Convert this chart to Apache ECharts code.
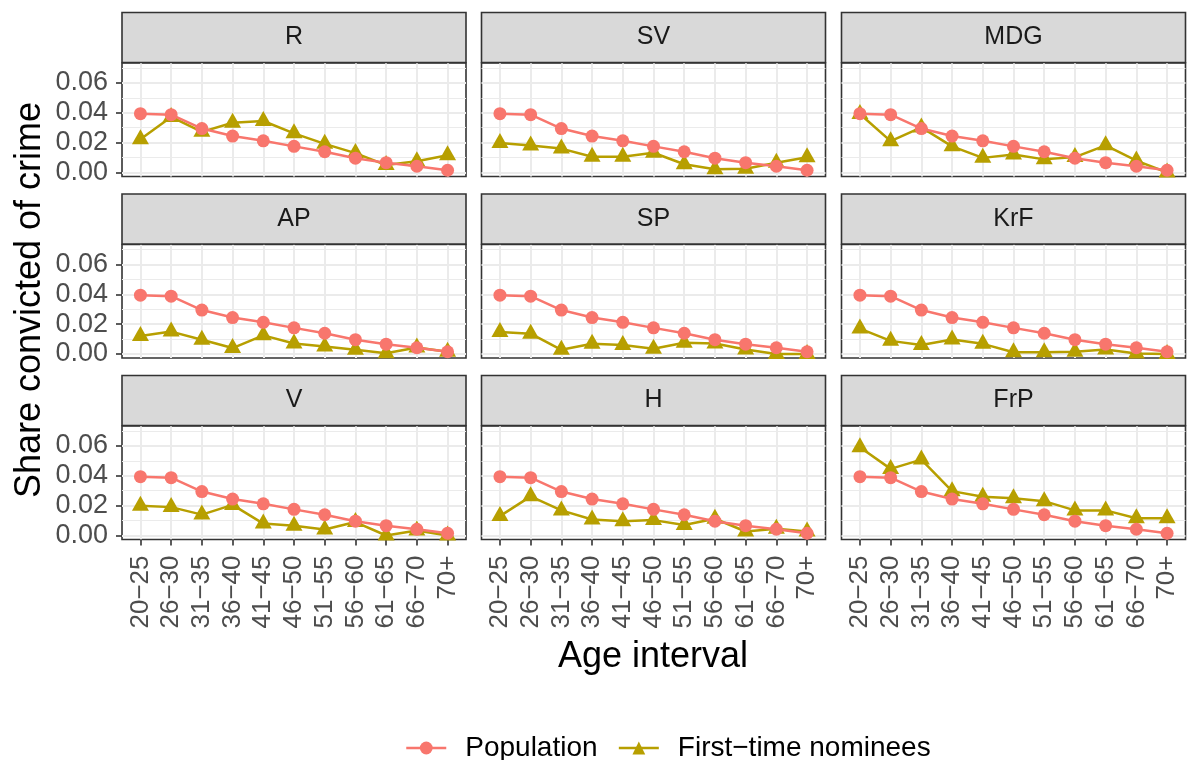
<!DOCTYPE html>
<html>
<head>
<meta charset="utf-8">
<script src="https://cdn.jsdelivr.net/npm/echarts@6/dist/echarts.min.js"></script>
<style>
  html, body { margin: 0; padding: 0; background: #ffffff; }
  #chart { width: 1187px; height: 760px; }
</style>
</head>
<body>
<div id="chart"></div>
<script>
// Age bands shown on the x axis
const ageIntervals = ['20−25', '26−30', '31−35', '36−40', '41−45', '46−50',
                      '51−55', '56−60', '61−65', '66−70', '70+'];

// Party facets, in reading order
const parties = ['R', 'SV', 'MDG', 'AP', 'SP', 'KrF', 'V', 'H', 'FrP'];

// Share of the general population convicted of a crime, by age band
const population = [0.0394, 0.0387, 0.0294, 0.0244, 0.0212, 0.0175, 0.0139, 0.0096, 0.0066, 0.0042, 0.0015];

// Share of first-time nominees convicted of a crime, by party and age band
const nomineesR   = [0.0222, 0.0372, 0.0272, 0.0333, 0.0345, 0.0262, 0.0192, 0.0130, 0.0050, 0.0075, 0.0115];
const nomineesSV  = [0.0198, 0.0180, 0.0160, 0.0105, 0.0105, 0.0132, 0.0055, 0.0022, 0.0025, 0.0065, 0.0102];
const nomineesMDG = [0.0392, 0.0210, 0.0302, 0.0175, 0.0098, 0.0120, 0.0088, 0.0103, 0.0182, 0.0080, 0.0000];
const nomineesAP  = [0.0120, 0.0150, 0.0095, 0.0040, 0.0125, 0.0070, 0.0050, 0.0028, 0.0005, 0.0043, 0.0015];
const nomineesSP  = [0.0148, 0.0136, 0.0028, 0.0068, 0.0060, 0.0035, 0.0075, 0.0070, 0.0030, 0.0000, 0.0000];
const nomineesKrF = [0.0170, 0.0088, 0.0060, 0.0097, 0.0068, 0.0012, 0.0012, 0.0015, 0.0030, 0.0003, 0.0000];
const nomineesV   = [0.0200, 0.0190, 0.0140, 0.0205, 0.0080, 0.0065, 0.0040, 0.0090, 0.0000, 0.0033, 0.0000];
const nomineesH   = [0.0130, 0.0262, 0.0168, 0.0107, 0.0096, 0.0103, 0.0070, 0.0112, 0.0027, 0.0045, 0.0027];
const nomineesFrP = [0.0591, 0.0446, 0.0508, 0.0297, 0.0260, 0.0250, 0.0230, 0.0168, 0.0168, 0.0116, 0.0116];

const nomineesByParty = [nomineesR, nomineesSV, nomineesMDG, nomineesAP, nomineesSP,
                         nomineesKrF, nomineesV, nomineesH, nomineesFrP];

// y axis ticks (major labelled, minor grid only)
const yTicks = [0, 0.02, 0.04, 0.06];
const yMinorTicks = [0.01, 0.03, 0.05, 0.07];

const seriesNames = ['Population', 'First−time nominees'];

// ---- layout ----
const COL_LEFT = [122, 481.5, 841.5];
const ROW_TOP = [63, 244.5, 426];
const PANEL_W = 344;
const PANEL_H = 113.5;
const STRIP_H = 50;
const Y_MIN = -0.00267, Y_MAX = 0.0733;
const X_MIN = -0.6, X_MAX = 10.6;

const POP_COLOR = '#F8766D';
const NOM_COLOR = '#B79F00';
const GRID_COLOR = '#EBEBEB';
const FRAME_COLOR = '#333333';
const TICK_TEXT = '#4D4D4D';
const FONT = 'Liberation Sans, Arial, sans-serif';

const xIdx = ageIntervals.map((_, k) => k);

const grids = [], xAxes = [], yAxes = [], series = [], graphics = [];

parties.forEach((party, i) => {
  const col = i % 3, row = Math.floor(i / 3);
  const left = COL_LEFT[col], top = ROW_TOP[row];
  const bottomRow = row === 2, leftCol = col === 0;

  grids.push({
    left: left, top: top, width: PANEL_W, height: PANEL_H,
    show: true, backgroundColor: '#ffffff',
    borderColor: FRAME_COLOR, borderWidth: 1.6,
    containLabel: false, outerBoundsMode: 'none'
  });

  xAxes.push({
    gridIndex: i, type: 'value', min: X_MIN, max: X_MAX, position: 'bottom',
    axisLine: { show: false, onZero: false },
    axisTick: { show: bottomRow, customValues: xIdx, length: 6,
                lineStyle: { color: FRAME_COLOR, width: 1.6 } },
    axisLabel: { show: bottomRow, customValues: xIdx, rotate: 90, margin: 16,
                 formatter: v => ageIntervals[Math.round(v)],
                 fontSize: 26, color: TICK_TEXT, fontFamily: FONT },
    splitLine: { show: true, lineStyle: { color: GRID_COLOR, width: 2 } }
  });

  // major y axis: labels, ticks and major grid lines
  yAxes.push({
    gridIndex: i, type: 'value', min: Y_MIN, max: Y_MAX, position: 'left',
    axisLine: { show: false, onZero: false },
    axisTick: { show: leftCol, customValues: yTicks, length: 6,
                lineStyle: { color: FRAME_COLOR, width: 1.6 } },
    axisLabel: { show: leftCol, customValues: yTicks, margin: 14,
                 formatter: v => v.toFixed(2),
                 fontSize: 27, color: TICK_TEXT, fontFamily: FONT },
    splitLine: { show: true, lineStyle: { color: GRID_COLOR, width: 2 } }
  });
  // minor y grid lines
  yAxes.push({
    gridIndex: i, type: 'value', min: Y_MIN, max: Y_MAX, position: 'left',
    axisLine: { show: false, onZero: false },
    axisTick: { show: false, customValues: yMinorTicks },
    axisLabel: { show: false },
    splitLine: { show: true, lineStyle: { color: GRID_COLOR, width: 1 } }
  });

  series.push({
    name: seriesNames[1], type: 'line', xAxisIndex: i, yAxisIndex: 2 * i,
    data: nomineesByParty[i].map((v, k) => [k, v]),
    color: NOM_COLOR,
    symbol: 'triangle', symbolSize: [17, 15], symbolOffset: [0, -2.5],
    showAllSymbol: true,
    lineStyle: { width: 2.5, color: NOM_COLOR },
    itemStyle: { color: NOM_COLOR },
    z: 3
  });
  series.push({
    name: seriesNames[0], type: 'line', xAxisIndex: i, yAxisIndex: 2 * i,
    data: population.map((v, k) => [k, v]),
    color: POP_COLOR,
    symbol: 'circle', symbolSize: 13, showAllSymbol: true,
    lineStyle: { width: 2.5, color: POP_COLOR },
    itemStyle: { color: POP_COLOR },
    z: 4
  });

  // facet strip
  graphics.push({
    type: 'rect',
    shape: { x: left, y: top - STRIP_H - 0.5, width: PANEL_W, height: STRIP_H },
    style: { fill: '#D9D9D9', stroke: FRAME_COLOR, lineWidth: 1.6 },
    z: 10
  });
  graphics.push({
    type: 'text',
    x: left + PANEL_W / 2, y: top - STRIP_H / 2 - 0.5,
    style: { text: party, fill: '#1A1A1A', font: '25px ' + FONT,
             align: 'center', verticalAlign: 'middle' },
    z: 11
  });
});

// shared axis titles
graphics.push({
  type: 'text', x: 30, y: 300, rotation: Math.PI / 2,
  style: { text: 'Share convicted of crime', fill: '#000000', font: '36px ' + FONT,
           align: 'center', verticalAlign: 'middle' },
  z: 11
});
graphics.push({
  type: 'text', x: 653, y: 657,
  style: { text: 'Age interval', fill: '#000000', font: '36px ' + FONT,
           align: 'center', verticalAlign: 'middle' },
  z: 11
});

const chart = echarts.init(document.getElementById('chart'), null, { renderer: 'canvas' });
chart.setOption({
  animation: false,
  backgroundColor: '#ffffff',
  grid: grids,
  xAxis: xAxes,
  yAxis: yAxes,
  series: series,
  graphic: graphics,
  legend: {
    data: seriesNames,
    left: 400, top: 729,
    itemWidth: 40, itemHeight: 16, itemGap: 20,
    lineStyle: { width: 2.5 },
    textStyle: { fontSize: 28, color: '#000000', fontFamily: FONT, padding: [0, 0, 0, 14] }
  }
});
</script>
</body>
</html>
